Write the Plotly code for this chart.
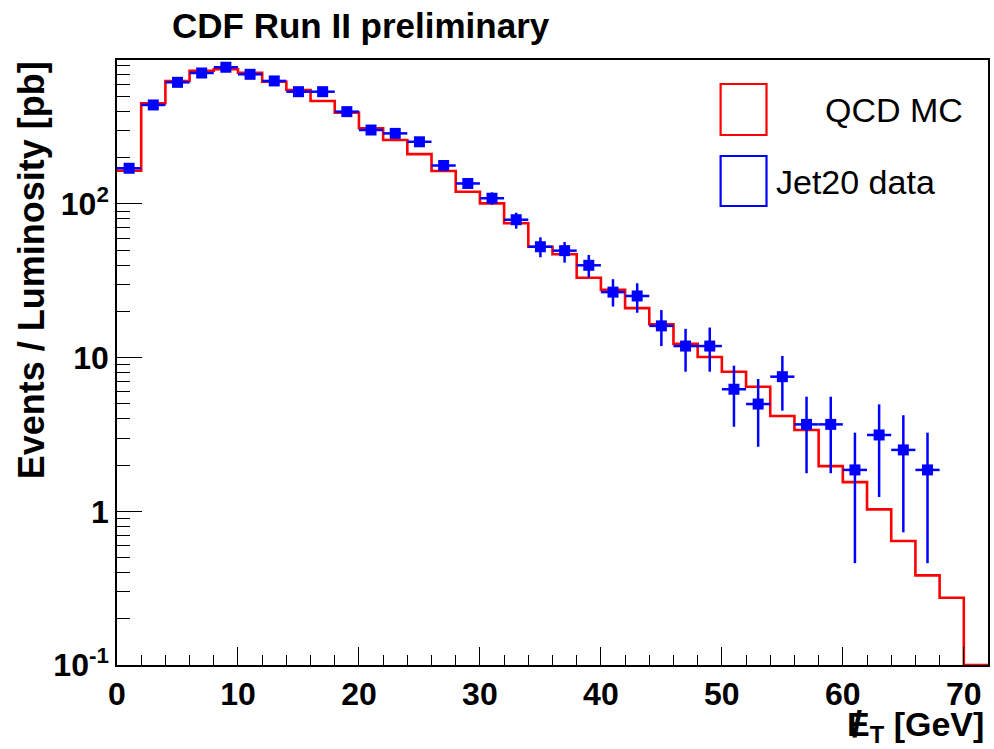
import plotly.graph_objects as go

# ---------------- data ----------------
# QCD MC histogram: bin edges (2 GeV bins) and contents [pb]
mc_edges = list(range(0, 74, 2))  # 0..72
mc_values = [164.7, 452, 632, 737, 753, 715, 625, 552, 468, 393,
             311, 261, 211, 164, 120, 101, 74.9, 52.7, 47.1, 33.1,
             27.6, 21.0, 16.5, 12.3, 10.1, 8.10, 6.47, 4.17, 3.38, 1.97,
             1.55, 1.03, 0.641, 0.383, 0.274, 0.0]

# Jet20 data points (bin centres)
data_x = [1, 3, 5, 7, 9, 11, 13, 15, 17, 19, 21, 23, 25, 27, 29, 31, 33,
          35, 37, 39, 41, 43, 45, 47, 49, 51, 53, 55, 57, 59, 61, 63, 65, 67]
data_y = [170.8, 441, 619, 712, 776, 698, 632, 538, 538, 399, 303, 288, 254,
          178, 136, 109, 79, 52.7, 49.7, 39.9, 26.7, 25.2, 16.1, 11.9, 11.9,
          6.23, 4.99, 7.52, 3.68, 3.68, 1.86, 3.14, 2.51, 1.86]
data_err_up = [5, 8, 10, 11, 11, 10, 10, 9, 9, 8, 7, 7, 7,
               8, 9, 10, 8.8, 8.0, 6.9, 6.7, 5.7, 5.3, 4.3, 3.5, 3.8,
               2.64, 2.27, 2.73, 1.89, 1.89, 1.39, 1.83, 1.71, 1.39]
data_err_dn = [5, 8, 10, 11, 11, 10, 10, 9, 9, 8, 7, 7, 7,
               8, 9, 10, 9.9, 7.7, 8.2, 6.6, 5.2, 5.6, 4.2, 3.8, 3.8,
               2.68, 2.36, 3.0, 1.91, 1.91, 1.40, 1.90, 1.78, 1.40]
data_xerr = [1] * len(data_x)

x_tickvals = [0, 10, 20, 30, 40, 50, 60, 70]
y_tickvals = [0.1, 1, 10, 100]
y_ticktext = ["10<sup>-1</sup>", "1", "10", "10<sup>2</sup>"]

# ---------------- layout geometry ----------------
W, H = 994, 749
L, R, T, B = 117, 990, 60, 665
Y_MIN_LOG, Y_MAX_LOG = -1, 2.937
Y_FLOOR = 10 ** Y_MIN_LOG

def px(xp):
    return (xp - L) / (R - L)

def py(yp):
    return (B - yp) / (B - T)

FONT = "Liberation Sans, Arial, Helvetica, sans-serif"
RED = "#ff0000"
BLUE = "#0000ff"

fig = go.Figure()

# MC step histogram
mc_y = [max(v, Y_FLOOR) for v in mc_values]
mc_y_plot = mc_y + [mc_y[-1]]
fig.add_trace(go.Scatter(
    x=mc_edges, y=mc_y_plot, mode="lines", line_shape="hv",
    line=dict(color=RED, width=2.6), showlegend=False, hoverinfo="skip"))

# Data points with errors
fig.add_trace(go.Scatter(
    x=data_x, y=data_y, mode="markers",
    marker=dict(symbol="square", size=11, color=BLUE),
    error_x=dict(type="data", array=data_xerr, symmetric=True,
                 color=BLUE, thickness=2.5, width=0),
    error_y=dict(type="data", array=data_err_up, arrayminus=data_err_dn,
                 symmetric=False, color=BLUE, thickness=2.5, width=0),
    showlegend=False))

y_minor = [k * 10 ** e for e in (-1, 0, 1, 2) for k in range(2, 10)
           if k * 10 ** e < 10 ** Y_MAX_LOG]

fig.update_layout(
    width=W, height=H,
    margin=dict(l=L, r=W - R, t=T, b=H - B, pad=0),
    paper_bgcolor="white", plot_bgcolor="white",
    font=dict(family=FONT, color="black"),
    showlegend=False,
    xaxis=dict(
        range=[0, 72], showgrid=False, zeroline=False,
        showline=True, linecolor="black", linewidth=1.5, mirror=True,
        ticks="inside", ticklen=18, tickwidth=1.3, tickcolor="black",
        tickmode="array", tickvals=x_tickvals,
        ticktext=[str(v) for v in x_tickvals],
        tickfont=dict(family=FONT, size=32, weight="bold", color="black"),
        minor=dict(ticks="inside", ticklen=10, tickwidth=1.3,
                   tickcolor="black", dtick=2, tick0=0, showgrid=False),
    ),
    yaxis=dict(
        type="log", range=[Y_MIN_LOG, Y_MAX_LOG],
        showgrid=False, zeroline=False,
        showline=True, linecolor="black", linewidth=1.5, mirror=True,
        ticks="inside", ticklen=25, tickwidth=1.3, tickcolor="black",
        tickmode="array", tickvals=y_tickvals, ticktext=y_ticktext,
        tickfont=dict(family=FONT, size=32, weight="bold", color="black"),
        minor=dict(ticks="inside", ticklen=13, tickwidth=1.3,
                   tickcolor="black", tickmode="array", tickvals=y_minor,
                   showgrid=False),
    ),
)

annotations = [
    dict(text="<b>CDF Run II preliminary</b>", x=px(170), y=py(26),
         xanchor="left", yanchor="middle",
         font=dict(family=FONT, size=35, color="black")),
    dict(text="<b>Events / Luminosity [pb]</b>", x=px(31), y=py(270),
         xanchor="center", yanchor="middle", textangle=-90,
         font=dict(family=FONT, size=36, color="black")),
    # x-axis title: E_T [GeV] with a slash drawn across the E (missing E_T)
    dict(text="<b>E<sub>T</sub> [GeV]</b>", x=px(847), y=py(726),
         xanchor="left", yanchor="middle",
         font=dict(family=FONT, size=34, color="black")),
    dict(text="<b>/</b>", x=px(859), y=py(724),
         xanchor="center", yanchor="middle",
         font=dict(family=FONT, size=36, color="black")),
    dict(text="QCD MC", x=px(825), y=py(110), xanchor="left",
         yanchor="middle", font=dict(family=FONT, size=34, color="black")),
    dict(text="Jet20 data", x=px(776), y=py(182), xanchor="left",
         yanchor="middle", font=dict(family=FONT, size=34, color="black")),
]
for a in annotations:
    a.update(xref="paper", yref="paper", showarrow=False)
fig.update_layout(annotations=annotations)

shapes = [
    dict(type="rect", x0=px(722), x1=px(768), y0=py(135), y1=py(84),
         line=dict(color=RED, width=2.2), fillcolor="rgba(0,0,0,0)"),
    dict(type="rect", x0=px(722), x1=px(768), y0=py(206), y1=py(156),
         line=dict(color=BLUE, width=2.2), fillcolor="rgba(0,0,0,0)"),
]
for s in shapes:
    s.update(xref="paper", yref="paper")
fig.update_layout(shapes=shapes)

fig.write_html("out.html")
